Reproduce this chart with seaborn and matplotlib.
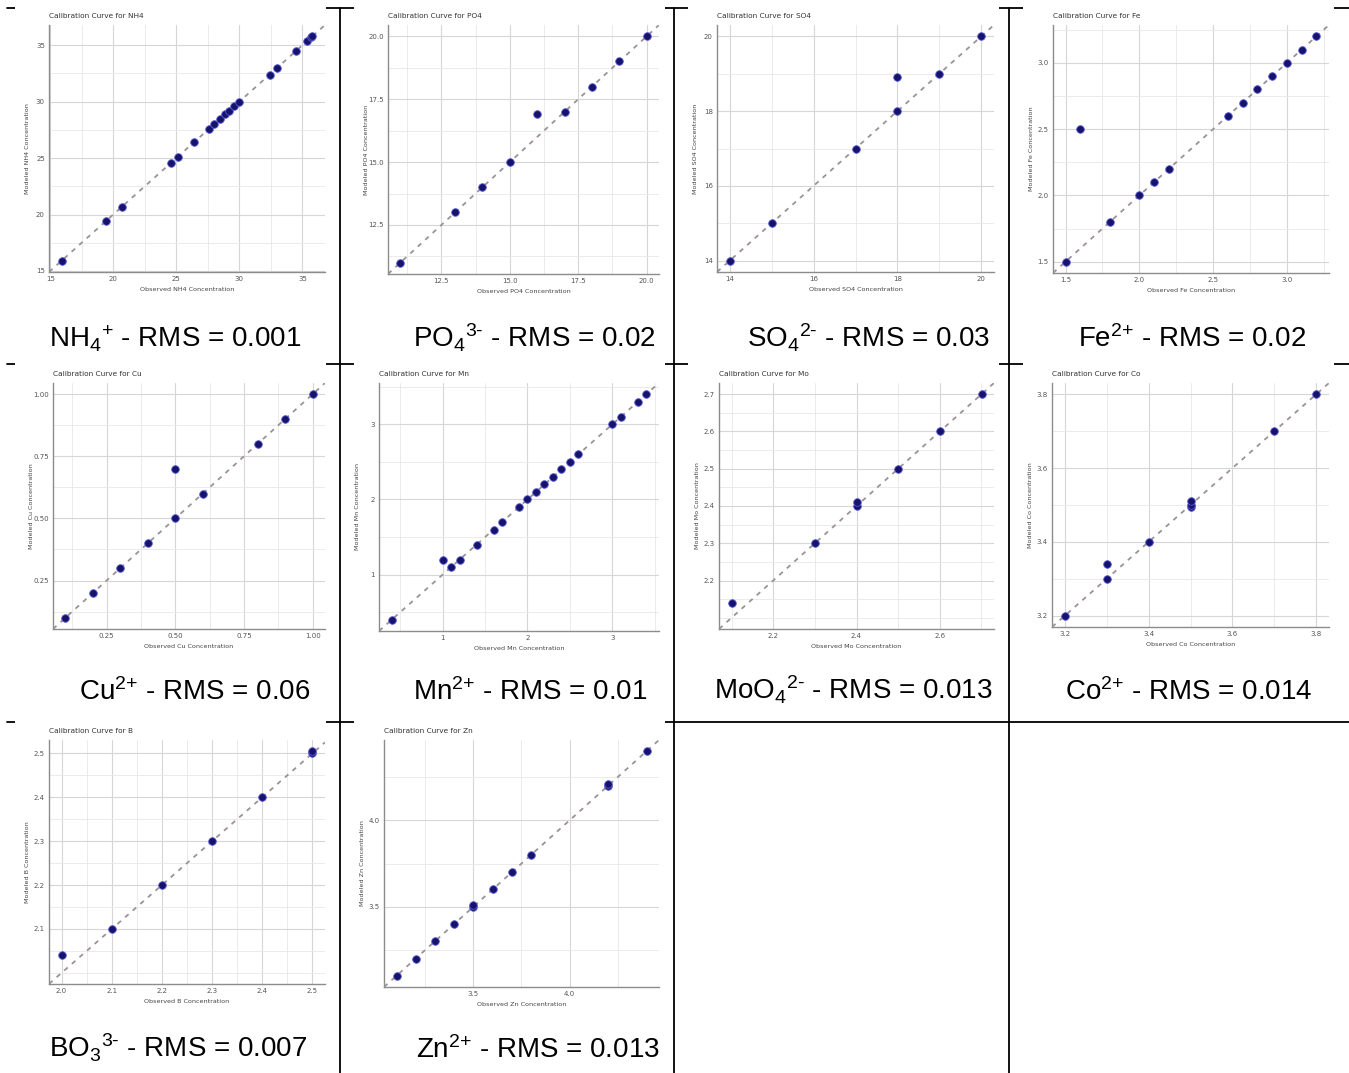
import matplotlib.pyplot as plt
import seaborn as sns
from matplotlib.lines import Line2D
from matplotlib.patches import Rectangle
from matplotlib.ticker import AutoMinorLocator, FixedLocator

sns.set_style("whitegrid")
plt.rcParams['font.family'] = ['DejaVu Sans']
plt.rcParams['mathtext.fontset'] = 'custom'
plt.rcParams['mathtext.rm'] = 'Liberation Sans'
plt.rcParams['mathtext.it'] = 'Liberation Sans:italic'
plt.rcParams['mathtext.bf'] = 'Liberation Sans:bold'
plt.rcParams['mathtext.default'] = 'regular'

# observed / modeled concentrations
nh4_obs = [15.9, 19.4, 20.7, 24.6, 25.1, 26.4, 27.6, 28.0, 28.5, 28.9, 29.2, 29.6, 30.0, 32.4, 33.0, 34.5, 35.4, 35.7, 35.8]
nh4_mod = [15.9, 19.4, 20.7, 24.6, 25.1, 26.4, 27.6, 28.0, 28.5, 28.9, 29.2, 29.6, 30.0, 32.4, 33.0, 34.5, 35.4, 35.7, 35.8]
po4_obs = [11.0, 13.0, 14.0, 15.0, 16.0, 17.0, 18.0, 19.0, 20.0]
po4_mod = [11.0, 13.0, 14.0, 15.0, 16.9, 17.0, 18.0, 19.0, 20.0]
so4_obs = [14, 15, 17, 18, 18, 19, 20]
so4_mod = [14, 15, 17, 18, 18.9, 19, 20]
fe_obs = [1.5, 1.6, 1.8, 2.0, 2.1, 2.2, 2.6, 2.7, 2.8, 2.9, 3.0, 3.1, 3.2]
fe_mod = [1.5, 2.5, 1.8, 2.0, 2.1, 2.2, 2.6, 2.7, 2.8, 2.9, 3.0, 3.1, 3.2]
cu_obs = [0.1, 0.2, 0.3, 0.4, 0.5, 0.5, 0.6, 0.8, 0.9, 1.0]
cu_mod = [0.1, 0.2, 0.3, 0.4, 0.5, 0.7, 0.6, 0.8, 0.9, 1.0]
mn_obs = [0.4, 1.0, 1.1, 1.2, 1.4, 1.6, 1.7, 1.9, 2.0, 2.1, 2.2, 2.3, 2.4, 2.5, 2.6, 3.0, 3.1, 3.3, 3.4]
mn_mod = [0.4, 1.2, 1.1, 1.2, 1.4, 1.6, 1.7, 1.9, 2.0, 2.1, 2.2, 2.3, 2.4, 2.5, 2.6, 3.0, 3.1, 3.3, 3.4]
mo_obs = [2.1, 2.3, 2.4, 2.4, 2.5, 2.6, 2.7]
mo_mod = [2.14, 2.3, 2.4, 2.41, 2.5, 2.6, 2.7]
co_obs = [3.2, 3.3, 3.3, 3.4, 3.5, 3.5, 3.5, 3.7, 3.8]
co_mod = [3.2, 3.3, 3.34, 3.4, 3.495, 3.5, 3.51, 3.7, 3.8]
b_obs = [2.0, 2.1, 2.2, 2.3, 2.4, 2.5, 2.5]
b_mod = [2.04, 2.1, 2.2, 2.3, 2.4, 2.5, 2.505]
zn_obs = [3.1, 3.2, 3.3, 3.4, 3.5, 3.5, 3.6, 3.7, 3.8, 4.2, 4.2, 4.4]
zn_mod = [3.1, 3.2, 3.3, 3.4, 3.5, 3.51, 3.6, 3.7, 3.8, 4.2, 4.21, 4.4]

names = ["NH4", "PO4", "SO4", "Fe", "Cu", "Mn", "Mo", "Co", "B", "Zn"]
captions = [r'NH$_4$$^{\text{+}}$ - RMS = 0.001', r'PO$_4$$^{\text{3-}}$ - RMS = 0.02',
            r'SO$_4$$^{\text{2-}}$ - RMS = 0.03', r'Fe$^{\text{2+}}$ - RMS = 0.02',
            r'Cu$^{\text{2+}}$ - RMS = 0.06', r'Mn$^{\text{2+}}$ - RMS = 0.01',
            r'MoO$_4$$^{\text{2-}}$ - RMS = 0.013', r'Co$^{\text{2+}}$ - RMS = 0.014',
            r'BO$_3$$^{\text{3-}}$ - RMS = 0.007', r'Zn$^{\text{2+}}$ - RMS = 0.013']
xticks = [[15, 20, 25, 30, 35], [12.5, 15.0, 17.5, 20.0], [14, 16, 18, 20], [1.5, 2.0, 2.5, 3.0],
          [0.25, 0.50, 0.75, 1.00], [1, 2, 3], [2.2, 2.4, 2.6], [3.2, 3.4, 3.6, 3.8],
          [2.0, 2.1, 2.2, 2.3, 2.4, 2.5], [3.5, 4.0]]
yticks = [[15, 20, 25, 30, 35], [12.5, 15.0, 17.5, 20.0], [14, 16, 18, 20], [1.5, 2.0, 2.5, 3.0],
          [0.25, 0.50, 0.75, 1.00], [1, 2, 3], [2.2, 2.3, 2.4, 2.5, 2.6, 2.7], [3.2, 3.4, 3.6, 3.8],
          [2.1, 2.2, 2.3, 2.4, 2.5], [3.5, 4.0]]
obs_all = [nh4_obs, po4_obs, so4_obs, fe_obs, cu_obs, mn_obs, mo_obs, co_obs, b_obs, zn_obs]
mod_all = [nh4_mod, po4_mod, so4_mod, fe_mod, cu_mod, mn_mod, mo_mod, co_mod, b_mod, zn_mod]

# layout in pixels (left, top, right, bottom) of each plot area
W, H = 1349, 1073
axes_px = [(49, 25, 325, 272), (388, 25, 659, 274), (717, 25, 994, 272), (1053, 25, 1329, 273),
           (53, 383, 325, 629), (379, 383, 659, 631), (719, 383, 994, 629), (1052, 383, 1329, 627),
           (49, 740, 325, 984), (384, 740, 659, 987)]
cap_x = [175, 534, 869, 1192, 195, 530, 853, 1189, 178, 538]
cap_base = [347, 700, 1058]
col_left = [1, 340, 674, 1009]
row_line = [8, 364, 722]

fig = plt.figure(figsize=(W / 100, H / 100), dpi=100)

# table rules
for y in row_line:
    fig.add_artist(Line2D([7 / W, 1], [1 - y / H] * 2, color='black', lw=1.3, zorder=-3))
for x in col_left[1:]:
    fig.add_artist(Line2D([x / W] * 2, [1 - row_line[0] / H, 0], color='black', lw=1.3, zorder=-3))

for i in range(10):
    r, c = divmod(i, 4)
    # white background of the pasted plot image
    fig.add_artist(Rectangle(((col_left[c] + 14) / W, 1 - (row_line[r] + 300) / H), 311 / W, 305 / H,
                             transform=fig.transFigure, facecolor='white', edgecolor='none', zorder=-2))

    l, t, rr, b = axes_px[i]
    ax = fig.add_axes([l / W, 1 - b / H, (rr - l) / W, (b - t) / H])
    ax.axline((obs_all[i][0], obs_all[i][0]), slope=1, color='#9b9297', lw=1.3,
              ls=(0, (2.6, 3.0)), zorder=2)
    sns.scatterplot(x=obs_all[i], y=mod_all[i], ax=ax, color='#16136b', s=30,
                    edgecolor='#5a5ad8', linewidth=0.6, zorder=3)

    ax.xaxis.set_major_locator(FixedLocator(xticks[i]))
    ax.yaxis.set_major_locator(FixedLocator(yticks[i]))
    ax.xaxis.set_minor_locator(AutoMinorLocator(2))
    ax.yaxis.set_minor_locator(AutoMinorLocator(2))
    ax.grid(True, which='major', color='#d6d6d6', lw=0.8)
    ax.grid(True, which='minor', color='#e8e8e8', lw=0.6)
    ax.tick_params(which='both', length=0, labelsize=5, colors='#555555', pad=3)
    for side in ['top', 'right']:
        ax.spines[side].set_visible(False)
    for side in ['left', 'bottom']:
        ax.spines[side].set_color('#8c8c8c')
        ax.spines[side].set_linewidth(1.0)

    ax.set_title(f"Calibration Curve for {names[i]}", loc='left', fontsize=5.3, color='#333333', pad=5)
    ax.set_xlabel(f"Observed {names[i]} Concentration", fontsize=4.6, color='#444444')
    ax.set_ylabel(f"Modeled {names[i]} Concentration", fontsize=4.6, color='#444444')
    ax.xaxis.set_label_coords(0.5, -15 / (b - t))
    ax.yaxis.set_label_coords(-19 / (rr - l), 0.5)

    fig.text(cap_x[i] / W, 1 - cap_base[r] / H, captions[i], ha='center', va='baseline',
             fontsize=20, family='Liberation Sans', color='black')

fig.savefig("out.png", dpi=100)
